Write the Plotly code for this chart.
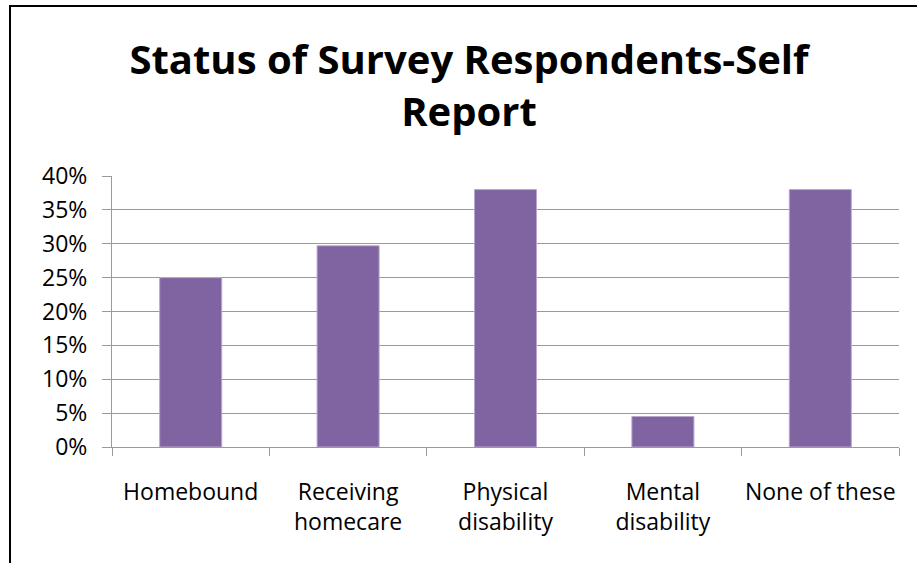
import plotly.graph_objects as go

# Survey status shares (fraction of respondents)
categories = ["Homebound", "Receiving<br>homecare", "Physical<br>disability",
              "Mental<br>disability", "None of these"]
shares = [0.25, 0.297, 0.38, 0.045, 0.38]
y_ticks = [0, 0.05, 0.10, 0.15, 0.20, 0.25, 0.30, 0.35, 0.40]

FONT = "Open Sans, Lato, sans-serif"
GRID = "#9a9a9a"

fig = go.Figure(
    go.Bar(
        x=categories,
        y=shares,
        marker=dict(color="#8064A2", line=dict(color="#B7A8CC", width=1)),
        width=0.394,
        hoverinfo="x+y",
    )
)

# plot area spans x 112..899, y 176..447 (pixels)
L, R, T, B = 112, 18, 176, 116
W, H = 917, 563
pw, ph = W - L - R, H - T - B


def px_x(x):
    return (x - L) / pw


def px_y(y):
    return (H - B - y) / ph


fig.update_layout(
    width=W,
    height=H,
    margin=dict(l=L, r=R, t=T, b=B),
    paper_bgcolor="white",
    plot_bgcolor="white",
    showlegend=False,
    font=dict(family=FONT, size=22, color="black"),
    title=dict(
        text="Status of Survey Respondents-Self<br>Report",
        font=dict(family=FONT, size=40, color="black", weight="bold"),
        x=469 / W,
        xanchor="center",
        xref="container",
        y=1 - 74 / H,
        yanchor="top",
        yref="container",
    ),
    xaxis=dict(
        type="category",
        showgrid=False,
        showline=True,
        linecolor=GRID,
        linewidth=1,
        ticks="outside",
        tickson="boundaries",
        ticklen=8,
        tickcolor=GRID,
        tickangle=0,
        tickfont=dict(family=FONT, size=23, color="black"),
        ticklabelstandoff=24,
        automargin=False,
        fixedrange=True,
    ),
    yaxis=dict(
        range=[0, 0.4],
        tickvals=y_ticks,
        tickformat=".0%",
        showgrid=True,
        gridcolor=GRID,
        gridwidth=1,
        showline=True,
        linecolor=GRID,
        linewidth=1,
        ticks="outside",
        ticklen=9,
        tickcolor=GRID,
        tickfont=dict(family=FONT, size=23, color="black"),
        ticklabelstandoff=10,
        zeroline=False,
        automargin=False,
        fixedrange=True,
    ),
    shapes=[
        dict(
            type="rect",
            xref="paper",
            yref="paper",
            x0=px_x(10),
            x1=px_x(930),
            y0=px_y(580),
            y1=px_y(6),
            line=dict(color="black", width=2),
            fillcolor="rgba(0,0,0,0)",
            layer="below",
        )
    ],
)

fig.write_html("out.html")
